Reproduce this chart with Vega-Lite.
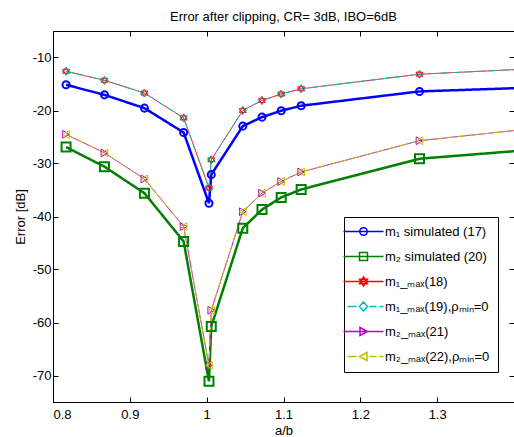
{
  "$schema": "https://vega.github.io/schema/vega-lite/v6.json",
  "width": 461,
  "height": 371,
  "autosize": "none",
  "padding": {"left": 53, "top": 31, "right": 0, "bottom": 35},
  "background": "white",
  "title": {"text": "Error after clipping, CR= 3dB, IBO=6dB", "fontSize": 13, "fontWeight": "normal", "font": "Liberation Sans", "baseline": "alphabetic", "offset": 10, "dy": 13, "color": "black"},
  "config": {
    "font": "Liberation Sans",
    "view": {"stroke": "black", "strokeWidth": 1},
    "axis": {"domainColor": "black", "tickColor": "black", "labelColor": "black", "titleColor": "black", "labelFontSize": 13, "titleFontSize": 13, "titleFontWeight": "normal", "grid": false, "tickSize": -5, "labelFont": "Liberation Sans", "titleFont": "Liberation Sans"}
  },
  "datasets": {
    "d": [
      {"s": "S1", "x": 0.817, "y": -15.15}, {"s": "S1", "x": 0.867, "y": -17.05}, {"s": "S1", "x": 0.919, "y": -19.55}, {"s": "S1", "x": 0.970, "y": -24.15}, {"s": "S1", "x": 1.003, "y": -37.5}, {"s": "S1", "x": 1.006, "y": -32.1}, {"s": "S1", "x": 1.047, "y": -22.95}, {"s": "S1", "x": 1.072, "y": -21.25}, {"s": "S1", "x": 1.097, "y": -20.05}, {"s": "S1", "x": 1.123, "y": -19.1}, {"s": "S1", "x": 1.277, "y": -16.4}, {"s": "S1", "x": 1.45, "y": -15.55},
      {"s": "S2", "x": 0.817, "y": -26.9}, {"s": "S2", "x": 0.867, "y": -30.6}, {"s": "S2", "x": 0.919, "y": -35.6}, {"s": "S2", "x": 0.970, "y": -44.7}, {"s": "S2", "x": 1.003, "y": -71.1}, {"s": "S2", "x": 1.006, "y": -60.75}, {"s": "S2", "x": 1.047, "y": -42.2}, {"s": "S2", "x": 1.072, "y": -38.7}, {"s": "S2", "x": 1.097, "y": -36.4}, {"s": "S2", "x": 1.123, "y": -34.9}, {"s": "S2", "x": 1.277, "y": -29.1}, {"s": "S2", "x": 1.45, "y": -27.1},
      {"s": "S3", "x": 0.817, "y": -12.6}, {"s": "S3", "x": 0.867, "y": -14.3}, {"s": "S3", "x": 0.919, "y": -16.7}, {"s": "S3", "x": 0.970, "y": -21.4}, {"s": "S3", "x": 1.003, "y": -34.6}, {"s": "S3", "x": 1.006, "y": -29.3}, {"s": "S3", "x": 1.047, "y": -20.0}, {"s": "S3", "x": 1.072, "y": -18.1}, {"s": "S3", "x": 1.097, "y": -16.9}, {"s": "S3", "x": 1.123, "y": -15.9}, {"s": "S3", "x": 1.277, "y": -13.15}, {"s": "S3", "x": 1.45, "y": -11.95},
      {"s": "S4", "x": 0.817, "y": -12.6}, {"s": "S4", "x": 0.867, "y": -14.3}, {"s": "S4", "x": 0.919, "y": -16.7}, {"s": "S4", "x": 0.970, "y": -21.4}, {"s": "S4", "x": 1.003, "y": -34.6}, {"s": "S4", "x": 1.006, "y": -29.3}, {"s": "S4", "x": 1.047, "y": -20.0}, {"s": "S4", "x": 1.072, "y": -18.1}, {"s": "S4", "x": 1.097, "y": -16.9}, {"s": "S4", "x": 1.123, "y": -15.9}, {"s": "S4", "x": 1.277, "y": -13.15}, {"s": "S4", "x": 1.45, "y": -11.95},
      {"s": "S5", "x": 0.817, "y": -24.5}, {"s": "S5", "x": 0.867, "y": -28.0}, {"s": "S5", "x": 0.919, "y": -32.9}, {"s": "S5", "x": 0.970, "y": -41.9}, {"s": "S5", "x": 1.003, "y": -68.1}, {"s": "S5", "x": 1.006, "y": -57.7}, {"s": "S5", "x": 1.047, "y": -39.1}, {"s": "S5", "x": 1.072, "y": -35.6}, {"s": "S5", "x": 1.097, "y": -33.4}, {"s": "S5", "x": 1.123, "y": -31.6}, {"s": "S5", "x": 1.277, "y": -25.7}, {"s": "S5", "x": 1.45, "y": -23.0},
      {"s": "S6", "x": 0.817, "y": -24.5}, {"s": "S6", "x": 0.867, "y": -28.0}, {"s": "S6", "x": 0.919, "y": -32.9}, {"s": "S6", "x": 0.970, "y": -41.9}, {"s": "S6", "x": 1.003, "y": -68.1}, {"s": "S6", "x": 1.006, "y": -57.7}, {"s": "S6", "x": 1.047, "y": -39.1}, {"s": "S6", "x": 1.072, "y": -35.6}, {"s": "S6", "x": 1.097, "y": -33.4}, {"s": "S6", "x": 1.123, "y": -31.6}, {"s": "S6", "x": 1.277, "y": -25.7}, {"s": "S6", "x": 1.45, "y": -23.0}
    ],
    "leg": [{"s": "S1"}, {"s": "S2"}, {"s": "S3"}, {"s": "S4"}, {"s": "S5"}, {"s": "S6"}]
  },
  "layer": [
    {
      "data": {"name": "d"},
      "mark": {"type": "line", "clip": true},
      "encoding": {
        "x": {"field": "x", "type": "quantitative", "scale": {"domain": [0.8, 1.4], "nice": false, "zero": false}, "axis": {"orient": "bottom", "values": [0.8, 0.9, 1, 1.1, 1.2, 1.3], "format": "~g", "title": "a/b", "labelPadding": 11, "titlePadding": 3}},
        "y": {"field": "y", "type": "quantitative", "scale": {"domain": [-75, -5], "nice": false, "zero": false}, "axis": {"orient": "left", "values": [-70, -60, -50, -40, -30, -20, -10], "labelExpr": "'' + datum.value", "title": "Error [dB]", "labelPadding": 7, "titlePadding": 5}},
        "color": {"field": "s", "type": "nominal", "scale": {"domain": ["S1", "S2", "S3", "S4", "S5", "S6"], "range": ["#0000FF", "#008000", "#FF0000", "#00BFBF", "#BF00BF", "#BFBF00"]}, "legend": null},
        "strokeWidth": {"condition": {"test": "datum.s == 'S1' || datum.s == 'S2'", "value": 2.5}, "value": 1},
        "strokeDash": {"condition": {"test": "datum.s == 'S4' || datum.s == 'S6'", "value": [8, 4]}, "value": [1, 0]}
      }
    },
    {
      "data": {"name": "d"},
      "transform": [{"filter": "datum.x <= 1.4"}],
      "mark": {"type": "point", "filled": false, "clip": true, "opacity": 1},
      "encoding": {
        "x": {"field": "x", "type": "quantitative", "axis": {"orient": "top", "values": [0.8, 0.9, 1, 1.1, 1.2, 1.3], "labels": false, "title": null, "domain": false}},
        "y": {"field": "y", "type": "quantitative", "axis": {"orient": "right", "values": [-70, -60, -50, -40, -30, -20, -10], "labels": false, "title": null, "domain": false}},
        "color": {"field": "s", "type": "nominal", "scale": {"domain": ["S1", "S2", "S3", "S4", "S5", "S6"], "range": ["#0000FF", "#008000", "#FF0000", "#00BFBF", "#BF00BF", "#BFBF00"]}, "legend": null},
        "shape": {"field": "s", "type": "nominal", "scale": {"domain": ["S1", "S2", "S3", "S4", "S5", "S6"], "range": ["circle", "square", "M0,-1L0.866,0.5L-0.866,0.5ZM0,1L0.866,-0.5L-0.866,-0.5Z", "diamond", "triangle-right", "triangle-left"]}, "legend": null},
        "size": {"condition": [{"test": "datum.s == 'S1'", "value": 50}, {"test": "datum.s == 'S2'", "value": 81}, {"test": "datum.s == 'S3'", "value": 64}], "value": 60},
        "strokeWidth": {"condition": {"test": "datum.s == 'S1' || datum.s == 'S2'", "value": 2}, "value": 1}
      }
    },
    {
      "data": {"name": "leg"},
      "mark": {"type": "point", "filled": false, "opacity": 0},
      "encoding": {
        "shape": {"field": "s", "type": "nominal", "scale": {"domain": ["S1", "S2", "S3", "S4", "S5", "S6"], "range": [
          "M-3,0H5M1.75,0A0.75,0.75,0,1,1,0.25,0A0.75,0.75,0,1,1,1.75,0",
          "M-3,0H5M0.2,-0.8H1.8V0.8H0.2Z",
          "M-3,0H5M1,-0.9L1.78,0.45L0.22,0.45ZM1,0.9L1.78,-0.45L0.22,-0.45Z",
          "M-2.2,0H-0.4M2.2,0H3.6M4.2,0H5M1,-0.9L1.8,0L1,0.9L0.2,0Z",
          "M-3,0H5M0.3,-0.8L1.8,0L0.3,0.8Z",
          "M-2.2,0H-0.4M2.2,0H3.6M4.2,0H5M1.7,-0.8L0.2,0L1.7,0.8Z"
        ]}, "legend": {"orient": "none", "legendX": 291, "legendY": 186, "title": null, "strokeColor": "black", "fillColor": "white", "padding": 8, "symbolSize": 100, "labelOffset": 20, "rowPadding": 10, "labelFontSize": 13, "labelFont": "Liberation Sans", "labelColor": "black", "symbolOpacity": 1, "cornerRadius": 0,
          "labelExpr": "datum.value == 'S1' ? 'm₁ simulated (17)' : datum.value == 'S2' ? 'm₂ simulated (20)' : datum.value == 'S3' ? 'm₁_ₘₐₓ(18)' : datum.value == 'S4' ? 'm₁_ₘₐₓ(19),ρₘᵢₙ=0' : datum.value == 'S5' ? 'm₂_ₘₐₓ(21)' : 'm₂_ₘₐₓ(22),ρₘᵢₙ=0'",
          "encode": {"symbols": {"update": {"opacity": {"value": 1}, "strokeWidth": {"signal": "datum.value == 'S1' || datum.value == 'S2' ? 2.5 : 1"}}}}}},
        "color": {"field": "s", "type": "nominal", "scale": {"domain": ["S1", "S2", "S3", "S4", "S5", "S6"], "range": ["#0000FF", "#008000", "#FF0000", "#00BFBF", "#BF00BF", "#BFBF00"]}, "legend": {"orient": "none", "legendX": 291, "legendY": 186, "title": null, "strokeColor": "black", "fillColor": "white", "padding": 8, "symbolSize": 100, "labelOffset": 20, "rowPadding": 10, "labelFontSize": 13, "labelFont": "Liberation Sans", "labelColor": "black", "symbolOpacity": 1, "cornerRadius": 0,
          "labelExpr": "datum.value == 'S1' ? 'm₁ simulated (17)' : datum.value == 'S2' ? 'm₂ simulated (20)' : datum.value == 'S3' ? 'm₁_ₘₐₓ(18)' : datum.value == 'S4' ? 'm₁_ₘₐₓ(19),ρₘᵢₙ=0' : datum.value == 'S5' ? 'm₂_ₘₐₓ(21)' : 'm₂_ₘₐₓ(22),ρₘᵢₙ=0'",
          "encode": {"symbols": {"update": {"opacity": {"value": 1}, "strokeWidth": {"signal": "datum.value == 'S1' || datum.value == 'S2' ? 2.5 : 1"}}}}}}
      }
    }
  ],
  "resolve": {"scale": {"color": "independent", "shape": "independent"}, "axis": {"x": "independent", "y": "independent"}}
}
